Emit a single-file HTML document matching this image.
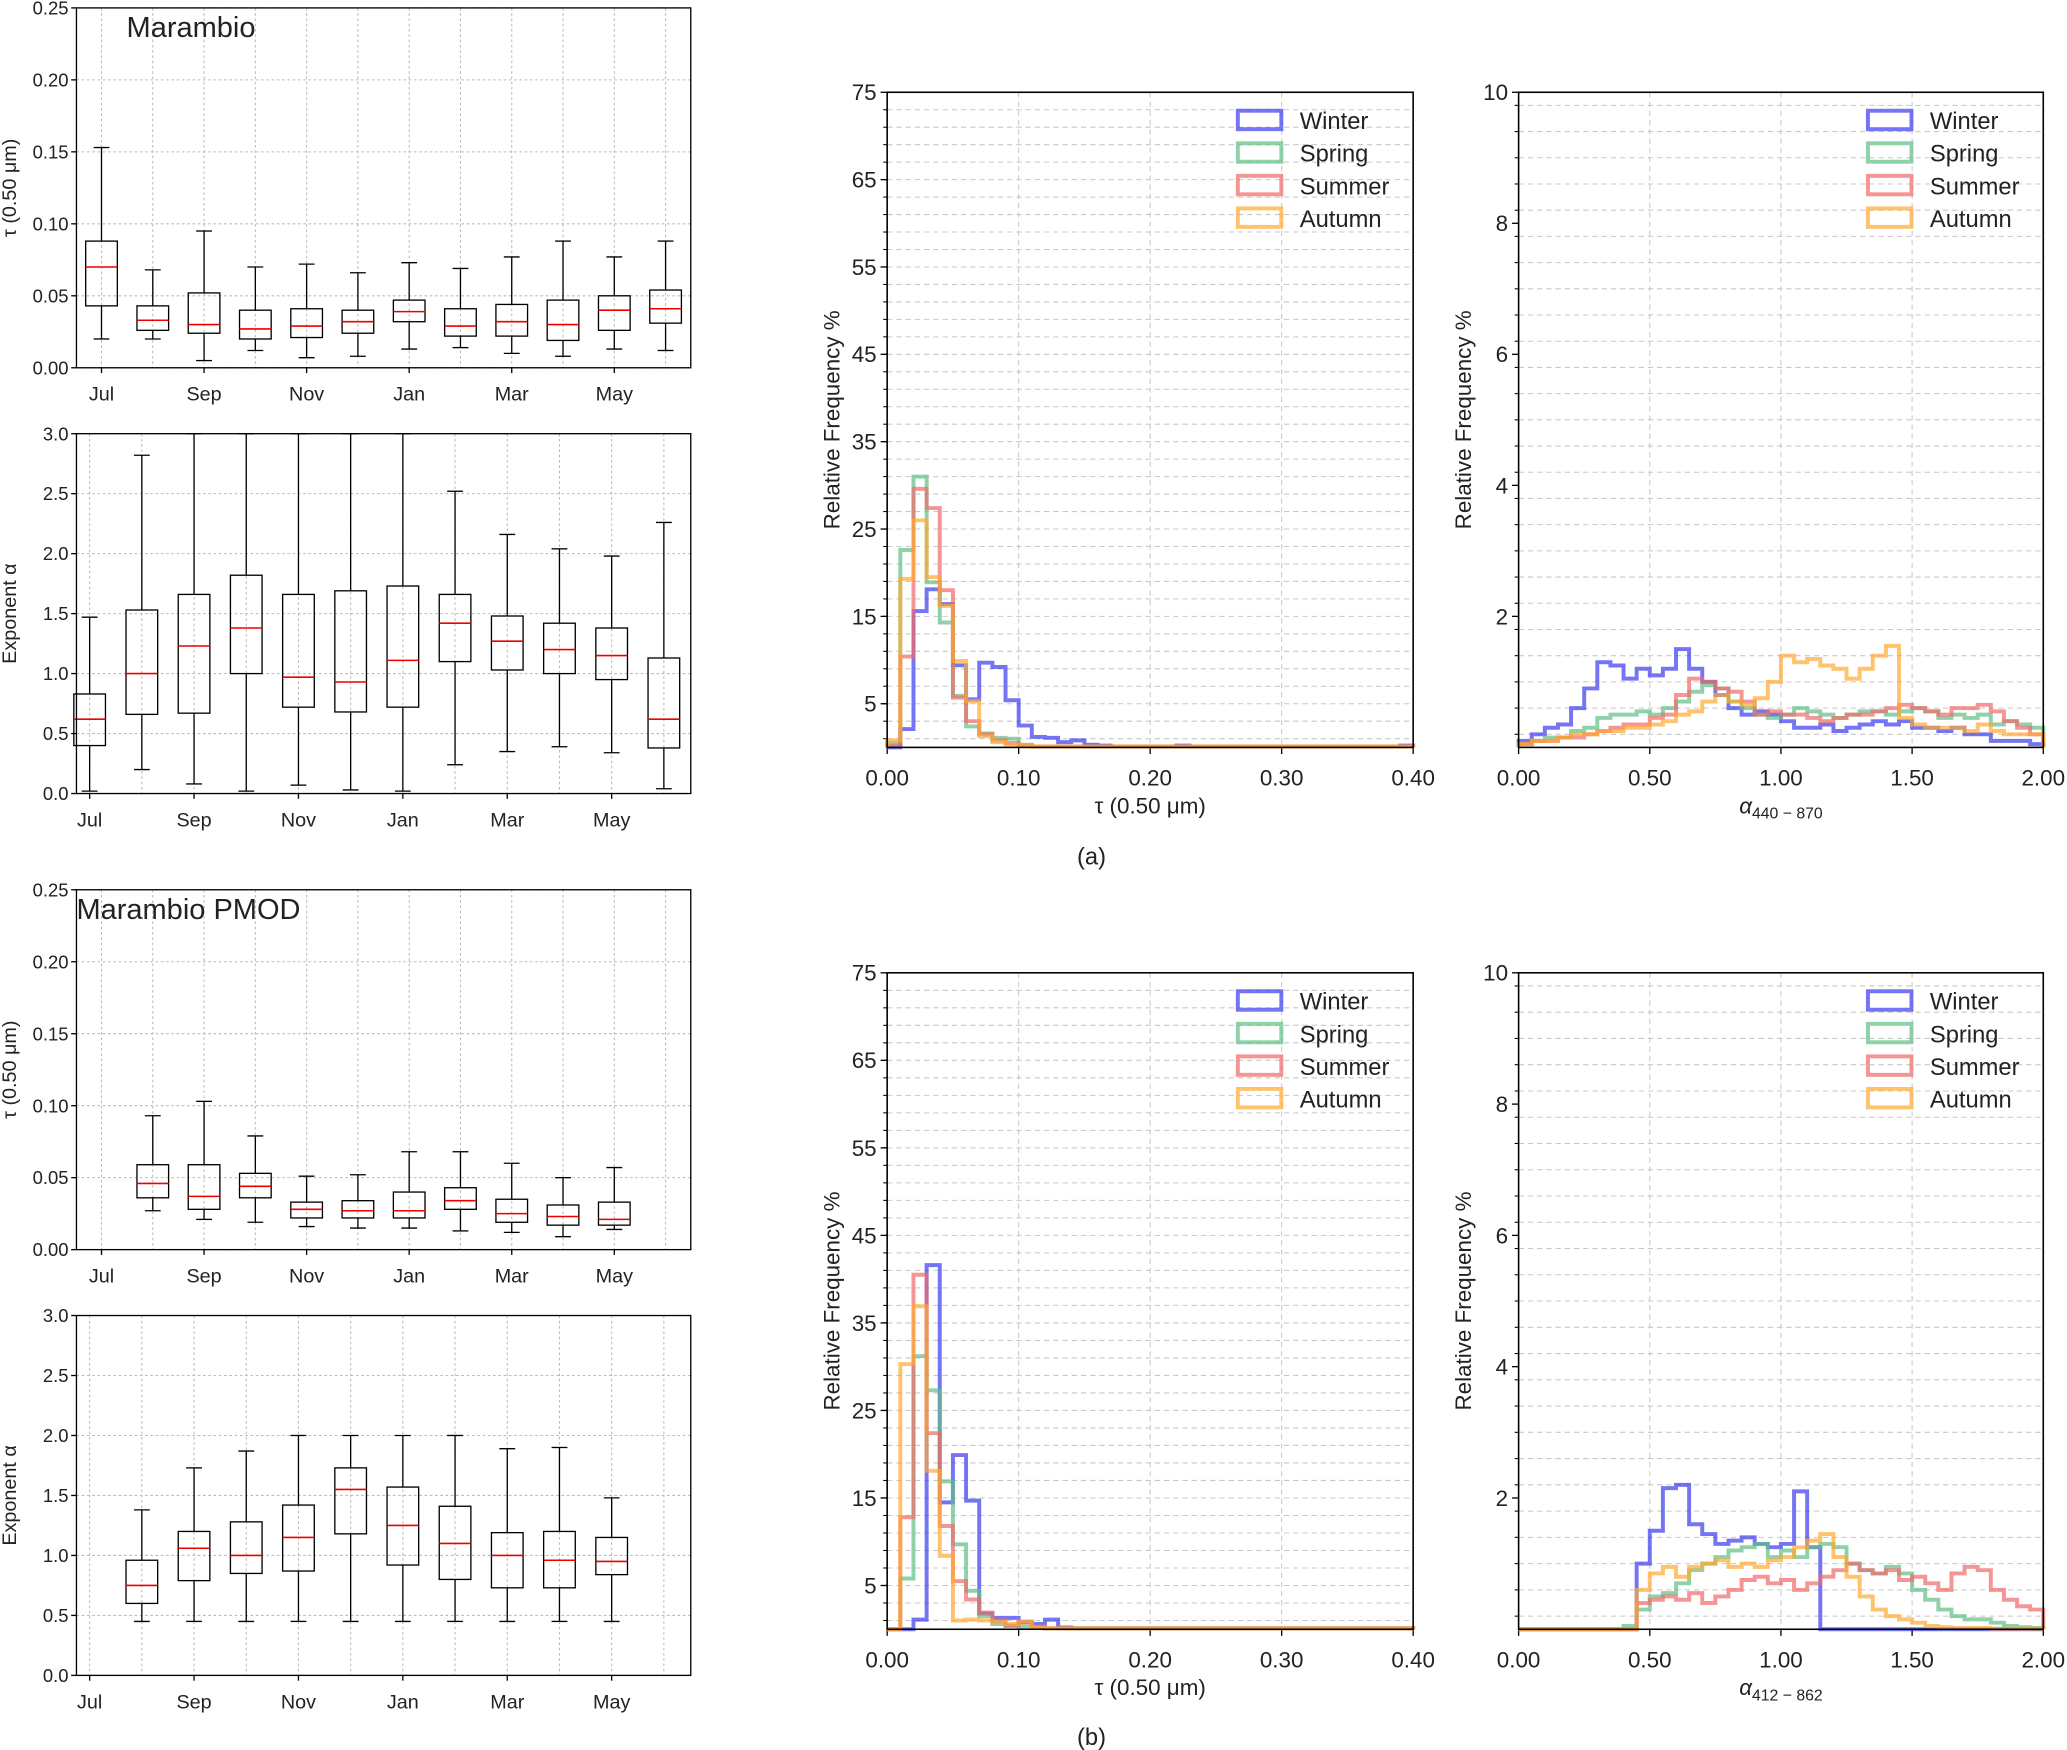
<!DOCTYPE html>
<html><head><meta charset="utf-8"><style>
html,body{margin:0;padding:0;background:#fff}
svg{display:block}
text{font-family:"Liberation Sans","DejaVu Sans",sans-serif;fill:#222}
</style></head><body>
<svg id="fig" width="2067" height="1750" viewBox="0 0 1568 1327.6" preserveAspectRatio="none"></svg>
<script>
// ---------- DATA ----------
const months = ["Jul","Aug","Sep","Oct","Nov","Dec","Jan","Feb","Mar","Apr","May","Jun"];
const monthTickLabels = ["Jul","Sep","Nov","Jan","Mar","May"];
// [whislo, q1, med, q3, whishi]
const tauMarambio = [[0.02,0.043,0.07,0.088,0.153],[0.02,0.026,0.033,0.043,0.068],[0.005,0.024,0.03,0.052,0.095],[0.012,0.02,0.027,0.04,0.07],[0.007,0.021,0.029,0.041,0.072],[0.008,0.024,0.032,0.04,0.066],[0.013,0.032,0.039,0.047,0.073],[0.014,0.022,0.029,0.041,0.069],[0.01,0.022,0.032,0.044,0.077],[0.008,0.019,0.03,0.047,0.088],[0.013,0.026,0.04,0.05,0.077],[0.012,0.031,0.041,0.054,0.088]];
const alphaMarambio = [[0.02,0.4,0.62,0.83,1.47],[0.2,0.66,1.0,1.53,2.82],[0.08,0.67,1.23,1.66,3.0],[0.02,1.0,1.38,1.82,3.0],[0.07,0.72,0.97,1.66,3.0],[0.03,0.68,0.93,1.69,3.0],[0.02,0.72,1.11,1.73,3.0],[0.24,1.1,1.42,1.66,2.52],[0.35,1.03,1.27,1.48,2.16],[0.39,1.0,1.2,1.42,2.04],[0.34,0.95,1.15,1.38,1.98],[0.04,0.38,0.62,1.13,2.26]];
const tauPMOD = [null,[0.027,0.036,0.046,0.059,0.093],[0.021,0.028,0.037,0.059,0.103],[0.019,0.036,0.044,0.053,0.079],[0.016,0.022,0.028,0.033,0.051],[0.015,0.022,0.027,0.034,0.052],[0.015,0.022,0.027,0.04,0.068],[0.013,0.028,0.034,0.043,0.068],[0.012,0.019,0.025,0.035,0.06],[0.009,0.017,0.023,0.031,0.05],[0.014,0.017,0.021,0.033,0.057],null];
const alphaPMOD = [null,[0.45,0.6,0.75,0.96,1.38],[0.45,0.79,1.06,1.2,1.73],[0.45,0.85,1.0,1.28,1.87],[0.45,0.87,1.15,1.42,2.0],[0.45,1.18,1.55,1.73,2.0],[0.45,0.92,1.25,1.57,2.0],[0.45,0.8,1.1,1.41,2.0],[0.45,0.73,1.0,1.19,1.89],[0.45,0.73,0.96,1.2,1.9],[0.45,0.84,0.95,1.15,1.48],null];

const seasons = ["Winter","Spring","Summer","Autumn"];
const seasonColors = ["#3a3af0","#5fbf85","#ef6a6a","#ffa830"];
// tau histograms, bin width 0.01 starting at 0
const tauHistA_winter = [0,2.1,15.6,18.1,16.4,9.4,5.5,9.7,9.2,5.4,2.5,1.2,1.1,0.6,0.8,0.3,0.2,0.1,0.1,0.1,0.1,0.1,0.2,0.1,0.1,0.1,0.1,0.1,0.1,0.1,0.1,0.1,0.1,0.1,0.1,0.1,0.1,0.1,0.1,0.2];
const tauHistA_spring = [0.5,22.6,31,18.9,14.3,5.9,2.4,1.6,1.1,1.0,0.3,0.1,0.1,0.1,0.1,0.1,0.1,0.1,0.1,0.1,0.1,0.1,0.1,0.1,0.1,0.1,0.1,0.1,0.1,0.1,0.1,0.1,0.1,0.1,0.1,0.1,0.1,0.1,0.1,0.1];
const tauHistA_summer = [0.2,10.4,29.6,27.4,18,5.7,3,1.5,0.8,0.5,0.2,0.1,0.1,0.1,0.1,0.1,0.1,0.1,0.1,0.1,0.1,0.1,0.1,0.1,0.1,0.1,0.1,0.1,0.1,0.1,0.1,0.1,0.1,0.1,0.1,0.1,0.1,0.1,0.1,0.1];
const tauHistA_autumn = [0.8,19.3,26,19.5,16.2,9.9,5.3,1.3,0.6,0.3,0.2,0.1,0.1,0.1,0.1,0.1,0.1,0.1,0.1,0.1,0.1,0.1,0.1,0.1,0.1,0.1,0.1,0.1,0.1,0.1,0.1,0.1,0.1,0.1,0.1,0.1,0.1,0.1,0.1,0.1];
const tauHistB_winter = [0,0,1.1,41.6,14.5,19.9,14.7,1.8,1.3,1.3,0.8,0.6,1.1,0.2,0.1,0.1,0.1,0.1,0.1,0.1,0.1,0.1,0.1,0.1,0.1,0.1,0.1,0.1,0.1,0.1,0.1,0.1,0.1,0.1,0.1,0.1,0.1,0.1,0.1,0.1];
const tauHistB_spring = [0,5.8,31.2,27.3,16.9,9.7,4.4,1.5,0.6,0.4,0.3,0.2,0.1,0.1,0.1,0.1,0.1,0.1,0.1,0.1,0.1,0.1,0.1,0.1,0.1,0.1,0.1,0.1,0.1,0.1,0.1,0.1,0.1,0.1,0.1,0.1,0.1,0.1,0.1,0.1];
const tauHistB_summer = [0,12.8,40.5,22.4,11.8,5.5,3.4,1.9,1.0,0.4,0.8,0.3,0.1,0.1,0.1,0.1,0.1,0.1,0.1,0.1,0.1,0.1,0.1,0.1,0.1,0.1,0.1,0.1,0.1,0.1,0.1,0.1,0.1,0.1,0.1,0.1,0.1,0.1,0.1,0.1];
const tauHistB_autumn = [0,30.3,36.9,18.1,8.4,1.0,1.1,1.0,0.8,0.6,0.9,0.2,0.1,0.1,0.1,0.1,0.1,0.1,0.1,0.1,0.1,0.1,0.1,0.1,0.1,0.1,0.1,0.1,0.1,0.1,0.1,0.1,0.1,0.1,0.1,0.1,0.1,0.1,0.1,0.1];
// alpha histograms, bin width 0.05 starting at 0
const alphaHistA_winter = [0.1,0.2,0.3,0.35,0.6,0.9,1.3,1.25,1.05,1.2,1.1,1.2,1.5,1.2,1.0,0.8,0.6,0.5,0.55,0.5,0.4,0.3,0.3,0.35,0.25,0.3,0.35,0.4,0.35,0.4,0.3,0.3,0.25,0.3,0.2,0.2,0.1,0.1,0.1,0.05];
const alphaHistA_spring = [0.05,0.1,0.15,0.15,0.25,0.3,0.45,0.5,0.5,0.55,0.5,0.6,0.7,0.85,0.95,0.9,0.7,0.6,0.5,0.45,0.5,0.6,0.55,0.5,0.45,0.5,0.55,0.55,0.5,0.55,0.6,0.55,0.45,0.5,0.45,0.5,0.35,0.4,0.35,0.3];
const alphaHistA_summer = [0.05,0.1,0.1,0.15,0.15,0.2,0.25,0.3,0.35,0.35,0.45,0.5,0.8,1.05,1.0,0.9,0.85,0.7,0.5,0.55,0.5,0.5,0.45,0.4,0.45,0.5,0.5,0.55,0.6,0.65,0.6,0.55,0.5,0.6,0.6,0.65,0.55,0.4,0.3,0.2];
const alphaHistA_autumn = [0.05,0.1,0.1,0.15,0.2,0.2,0.25,0.25,0.3,0.3,0.35,0.4,0.5,0.55,0.7,0.8,0.7,0.65,0.75,1.0,1.4,1.3,1.35,1.25,1.2,1.05,1.2,1.4,1.55,0.45,0.35,0.3,0.3,0.3,0.25,0.35,0.25,0.2,0.2,0.2];
const alphaHistB_winter = [0,0,0,0,0,0,0,0,0,1.0,1.5,2.15,2.2,1.6,1.45,1.3,1.35,1.4,1.3,1.25,1.3,2.1,1.25,0,0,0,0,0,0,0,0,0,0,0,0,0,0,0,0,0];
const alphaHistB_spring = [0,0,0,0,0,0,0,0,0.05,0.3,0.5,0.55,0.7,0.9,1.0,1.1,1.2,1.25,1.3,1.1,1.2,1.1,1.25,1.3,1.25,1.0,0.9,0.85,0.95,0.85,0.6,0.45,0.3,0.2,0.15,0.15,0.1,0.05,0.03,0.02];
const alphaHistB_summer = [0,0,0,0,0,0,0,0,0,0.4,0.45,0.5,0.45,0.55,0.4,0.5,0.6,0.75,0.8,0.7,0.75,0.6,0.7,0.8,0.9,1.0,0.9,0.85,0.9,0.75,0.8,0.7,0.6,0.85,0.95,0.9,0.6,0.45,0.35,0.3];
const alphaHistB_autumn = [0,0,0,0,0,0,0,0,0,0.6,0.85,0.95,0.8,0.95,1.0,1.05,0.95,1.0,0.95,1.05,1.1,1.25,1.35,1.45,1.1,0.8,0.5,0.3,0.2,0.15,0.1,0.05,0.03,0.02,0.02,0.02,0.01,0.01,0.01,0.01];

// ---------- HELPERS ----------
const NS="http://www.w3.org/2000/svg";
const svg=document.getElementById('fig');
function mk(tag,attrs,parent){const e=document.createElementNS(NS,tag);for(const k in attrs)e.setAttribute(k,attrs[k]);(parent||svg).appendChild(e);return e;}
function txt(x,y,s,size,anchor,parent,rot){const t=mk('text',{x:x,y:y,'font-size':size,'text-anchor':anchor||'middle'},parent);if(rot)t.setAttribute('transform','rotate(-90 '+x+' '+y+')');t.textContent=s;return t;}

function boxPanel(name,x0,x1,yTop,yBot,ymax,yticks,yfmt,centers,data,tickIdx,ylabel,title){
  const g=mk('g',{});
  
  
  const sy=v=>yBot-(v/ymax)*(yBot-yTop);
  yticks.forEach(v=>{const y=sy(v);
    mk('line',{x1:x0,x2:x1,y1:y,y2:y,stroke:'#bbb','stroke-width':0.8,'stroke-dasharray':'2,2'},g);
    mk('line',{x1:x0-4,x2:x0,y1:y,y2:y,stroke:'#000','stroke-width':1},g);
    txt(x0-6,y+5,v.toFixed(yfmt),14,'end',g);});
  centers.forEach(c=>mk('line',{x1:c,x2:c,y1:yTop,y2:yBot,stroke:'#bbb','stroke-width':0.8,'stroke-dasharray':'2,2'},g));
  tickIdx.forEach((i,k)=>{mk('line',{x1:centers[i],x2:centers[i],y1:yBot,y2:yBot+4,stroke:'#000'},g);txt(centers[i],yBot+25,monthTickLabels[k],15,'middle',g);});
  data.forEach((d,i)=>{if(!d)return;const c=centers[i],w=12;
    const b=mk('g',{},g);
    
    
    mk('line',{x1:c,x2:c,y1:sy(d[0]),y2:sy(d[1]),stroke:'#000','stroke-width':1},b);
    mk('line',{x1:c,x2:c,y1:sy(d[3]),y2:sy(d[4]),stroke:'#000','stroke-width':1},b);
    mk('line',{x1:c-w/2,x2:c+w/2,y1:sy(d[0]),y2:sy(d[0]),stroke:'#000'},b);
    mk('line',{x1:c-w/2,x2:c+w/2,y1:sy(d[4]),y2:sy(d[4]),stroke:'#000'},b);
    mk('rect',{x:c-w,y:sy(d[3]),width:2*w,height:sy(d[1])-sy(d[3]),fill:'none',stroke:'#000','stroke-width':1},b);
    mk('line',{x1:c-w,x2:c+w,y1:sy(d[2]),y2:sy(d[2]),stroke:'#e00','stroke-width':1.2},b);});
  mk('rect',{x:x0,y:yTop,width:x1-x0,height:yBot-yTop,fill:'none',stroke:'#000','stroke-width':1},g);
  const yl=txt(12,(yTop+yBot)/2,ylabel,15,'middle',g,true);
  
  
  if(title){const t=txt(title[1],title[2],title[0],22,'start',g);}
}

function histPanel(name,x0,x1,yTop,yBot,xmax,ymax,binW,series,xticks,xfmt,yticks,gridStep,xlabel,xsub){
  const g=mk('g',{});
  
  
  const sx=v=>x0+(v/xmax)*(x1-x0), sy=v=>yBot-(v/ymax)*(yBot-yTop);
  for(let v=gridStep/2;v<ymax;v+=gridStep){const y=sy(v);mk('line',{x1:x0,x2:x1,y1:y,y2:y,stroke:'#c8c8c8','stroke-width':0.8,'stroke-dasharray':'4,3'},g);mk('line',{x1:x0-3,x2:x0,y1:y,y2:y,stroke:'#000','stroke-width':0.8},g);}
  xticks.forEach(v=>{const x=sx(v);if(v>0&&v<xmax)mk('line',{x1:x,x2:x,y1:yTop,y2:yBot,stroke:'#c8c8c8','stroke-width':0.8,'stroke-dasharray':'4,3'},g);
    mk('line',{x1:x,x2:x,y1:yBot,y2:yBot+5,stroke:'#000'},g);txt(x,yBot+29,v.toFixed(xfmt),17,'middle',g);});
  yticks.forEach(v=>{const y=sy(v);mk('line',{x1:x0-5,x2:x0,y1:y,y2:y,stroke:'#000'},g);txt(x0-8,y+6,String(v),17,'end',g);});
  series.forEach((s,k)=>{let d='M'+sx(0)+','+sy(0);
    s.forEach((v,i)=>{d+=' L'+sx(i*binW)+','+sy(v)+' L'+sx((i+1)*binW)+','+sy(v);});
    d+=' L'+sx(s.length*binW)+','+sy(0);
    const p=mk('path',{d:d,fill:'none',stroke:seasonColors[k],'stroke-width':3,'stroke-opacity':0.7},g);
    
    });
  mk('rect',{x:x0,y:yTop,width:x1-x0,height:yBot-yTop,fill:'none',stroke:'#000','stroke-width':1.2},g);
  const lg=mk('g',{},g);
  
  
  seasons.forEach((s,k)=>{const y=yTop+21+k*24.7;
    mk('rect',{x:x1-133,y:y-7,width:33,height:14,fill:'none',stroke:seasonColors[k],'stroke-width':3,'stroke-opacity':0.7},lg);
    txt(x1-86,y+7,s,18,'start',lg);});
  const yl=txt(x0-36,(yTop+yBot)/2,'Relative Frequency %',17,'middle',g,true);
  
  
  const xl=mk('text',{x:(x0+x1)/2,y:yBot+50,'font-size':17,'text-anchor':'middle'},g);
  
  
  if(xsub){xl.setAttribute('font-style','italic');xl.textContent='α';const ts=mk('tspan',{'font-size':12,dy:4,'font-style':'normal'},xl);ts.textContent=xsub;}
  else xl.textContent=xlabel;
}

// ---------- BUILD ----------
const c1=months.map((_,i)=>77+i*38.9);
const c2=months.map((_,i)=>68+i*39.6);
const tIdx=[0,2,4,6,8,10];
const tauTicks=[0,0.05,0.1,0.15,0.2,0.25], aTicks=[0,0.5,1,1.5,2,2.5,3];
boxPanel('tau-box-marambio',58,524,6,279,0.25,tauTicks,2,c1,tauMarambio,tIdx,'τ (0.50 μm)',['Marambio',96,28]);
boxPanel('alpha-box-marambio',58,524,329,602,3,aTicks,1,c2,alphaMarambio,tIdx,'Exponent α',null);
boxPanel('tau-box-pmod',58,524,675,948,0.25,tauTicks,2,c1,tauPMOD,tIdx,'τ (0.50 μm)',['Marambio PMOD',58,697]);
boxPanel('alpha-box-pmod',58,524,998,1271,3,aTicks,1,c2,alphaPMOD,tIdx,'Exponent α',null);

const tx=[0,0.1,0.2,0.3,0.4], ty=[5,15,25,35,45,55,65,75];
const ax=[0,0.5,1,1.5,2], ay=[2,4,6,8,10];
histPanel('tau-hist-a',673,1072,70,567,0.4,75,0.01,[tauHistA_winter,tauHistA_spring,tauHistA_summer,tauHistA_autumn],tx,2,ty,2,'τ (0.50 μm)',null);
histPanel('alpha-hist-a',1152,1550,70,567,2,10,0.05,[alphaHistA_winter,alphaHistA_spring,alphaHistA_summer,alphaHistA_autumn],ax,2,ay,0.4,'','440 − 870');
histPanel('tau-hist-b',673,1072,738,1236,0.4,75,0.01,[tauHistB_winter,tauHistB_spring,tauHistB_summer,tauHistB_autumn],tx,2,ty,2,'τ (0.50 μm)',null);
histPanel('alpha-hist-b',1152,1550,738,1236,2,10,0.05,[alphaHistB_winter,alphaHistB_spring,alphaHistB_summer,alphaHistB_autumn],ax,2,ay,0.4,'','412 − 862');
const la=txt(828,656,'(a)',18,'middle');


const lb=txt(828,1324,'(b)',18,'middle');


</script>
</body></html>
